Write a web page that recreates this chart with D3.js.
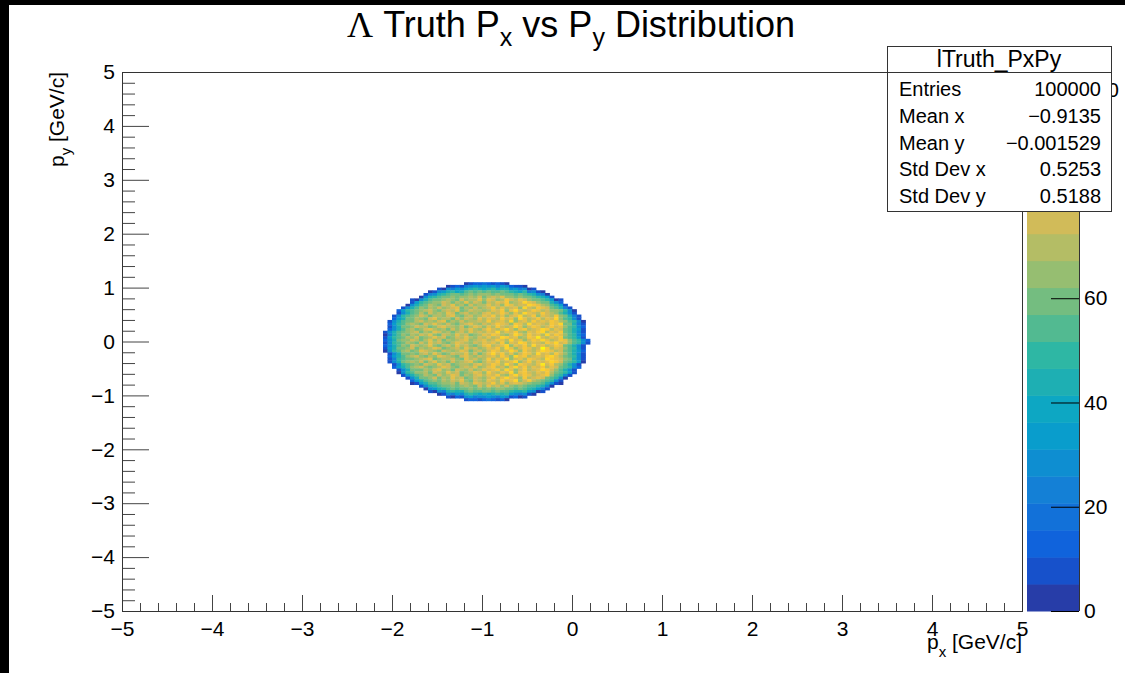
<!DOCTYPE html>
<html>
<head>
<meta charset="utf-8">
<script src="https://cdn.jsdelivr.net/npm/d3@7"></script>
<style>
  html, body { margin: 0; padding: 0; background: #fff; }
  svg { display: block; font-family: "Liberation Sans", Arial, sans-serif; }
</style>
</head>
<body>
<div id="chart"></div>
<script>
// --- Histogram definition (200 x 200 bins over [-5,5] x [-5,5]) ---
const X_RANGE = [-5, 5];
const Y_RANGE = [-5, 5];
const BIN_W = 0.05;
const Z_MAX = 103.4;      // top of the colour scale (max bin content)
const N_LEVELS = 20;      // contour levels of the palette
const COUNT_STEP = 5;     // one base-36 digit = 5 entries

// Non-empty rows, from the top row (y bin 121 -> [1.05, 1.10]) down.
const TOP_ROW_BIN = 121;
const FIRST_X_BIN = [
  76, 72, 70, 68, 67, 66, 64, 64, 63, 62, 61, 61, 60, 60, 59, 59, 59, 59, 58, 58, 58, 58,
  58, 58, 58, 58, 59, 59, 59, 59, 60, 60, 61, 61, 62, 63, 64, 64, 66, 67, 68, 70, 72, 76
];
// bin contents / 5, base 36 (rim + core pieces)
const ROW_COUNTS = [
  '1233432321',
  '123256767675763221',
  '21657689a989a899675612',
  '12679a89bcbcbcbbcba98a5621',
  '2569abccbcdcdd' + 'dcdcccbcba9651',
  '169abccdcd' + 'dedfc' + 'efegd' + 'dcdccba972',
  '2169bccd' + 'edcfdeegd' + 'gfdehfegf' + 'dccba712',
  '27abcd' + 'dfecedgdfec' + 'fegfhdefigf' + 'dcc963',
  '169bc' + 'edcfegdecfdee' + 'gefdhgeffihge' + 'dba72',
  '269bd' + 'cedfdefgcedfde' + 'fhegefgdifehgf' + 'cb952',
  '37abc' + 'defdcefegcdfeed' + 'egfhdgifefhgefd' + 'dca61',
  '269bc' + 'ecfdedgfcefdedf' + 'gefhfdgeigfehfe' + 'db962',
  '26abc' + 'dfeceedfgdcefdeg' + 'fhegdfgiefhdgfeh' + 'dc952',
  '379cc' + 'edcfgdeecfdfedge' + 'gfehfgdigefhegfi' + 'dba62',
  '269bc' + 'cefdedfgcedfdeefe' + 'hefgeidfgehfgfhge' + 'dba61',
  '37abd' + 'edcfegedfdcefgedf' + 'efhgfdhgeifgfehgi' + 'cc952',
  '269cc' + 'dfeecdfgeedfcegfd' + 'gehfefigdfhgefhfg' + 'dba63',
  '369bd' + 'ecdfgedecfdfegedf' + 'hfegifdghefgihegf' + 'cb972',
  '269bc' + 'defcedgfdecefdgefe' + 'gfiegfhedgfhiegfh' + 'cb962',
  '159bd' + 'cedfegdcfedgefcdeg' + 'fhgedfigehfgeifhg' + 'dba63',
  '27abc' + 'edfcdegefcdfegedfe' + 'gefihfgdehgjfegfh' + 'cba72',
  '369cd' + 'dfecegdfcedefgdefg' + 'efhgeifgdfhgigefhg' + 'dba63',
  '26abc' + 'edcfdgefdcegfedfeg' + 'fgehdgfihegfehgifg' + 'dba62',
  '369bd' + 'cfedegdcefdgefdceg' + 'hefgidgfheifgefhg' + 'cb962',
  '279cc' + 'dfcedegfcdefdgefde' + 'gfheigdfhgefkhegf' + 'dba62',
  '16abd' + 'ecdgfedcfedegfcefd' + 'fhgefigdhfegihgef' + 'cb973',
  '269cc' + 'dcefdgecdfeegdfce' + 'gifhegdfhgeifgehf' + 'db962',
  '379bd' + 'efdcedgfedcfgedfe' + 'fgehfdighefgfhige' + 'cba62',
  '25abc' + 'cdefgcdeefdcgefde' + 'hegfidfgehgfeihgf' + 'dc962',
  '269cd' + 'edfcegdecfdefgdce' + 'gfhefgidfhegfgihf' + 'cba71',
  '26abc' + 'dcfedgefcdeedfge' + 'fhgeifdhgfegjfhe' + 'db962',
  '379bd' + 'efdcdegfdcefegde' + 'ghefdgifhegfhegf' + 'cba63',
  '269cc' + 'cedfgdecfedfdeg' + 'fgheigdfhefgihf' + 'db962',
  '16abd' + 'decfedgefcdegfd' + 'hfegfidghfegfhe' + 'cba72',
  '279bc' + 'edcfdegfcedfge' + 'gfhedgifhgefgh' + 'dba62',
  '269cc' + 'dfcedgefcdfed' + 'fhegigfdhefgf' + 'cba61',
  '379bcd' + 'cedfegdcfed' + 'gfehfgidfhe' + 'dcba62',
  '1279bbcd' + 'decfedgfe' + 'fhegdfgfe' + 'dccb9621',
  '269abccdcd' + 'edcfd' + 'gefdf' + 'dcdcbba961',
  '1679abcbccdcdc' + 'dcddccbcba9752',
  '21659a99bcbbc' + 'cbcbba99a7612',
  '1265769a989' + '89a9a765621',
  '213267566' + '765762312',
  '2332343231'
];

// ROOT kBird palette stops
const BIRD_STOPS = [0.0000, 0.1250, 0.2500, 0.3750, 0.5000, 0.6250, 0.7500, 0.8750, 1.0000];
const BIRD_R = [0.2082, 0.0592, 0.0780, 0.0232, 0.1802, 0.5301, 0.8186, 0.9956, 0.9764];
const BIRD_G = [0.1664, 0.3599, 0.5041, 0.6419, 0.7178, 0.7492, 0.7328, 0.7862, 0.9832];
const BIRD_B = [0.5293, 0.8684, 0.8385, 0.7914, 0.6425, 0.4662, 0.3499, 0.1968, 0.0539];

const X_TICKS = [-5, -4, -3, -2, -1, 0, 1, 2, 3, 4, 5];
const Y_TICKS = [-5, -4, -3, -2, -1, 0, 1, 2, 3, 4, 5];
const Z_TICKS = [0, 20, 40, 60, 80, 100];

const STAT_TITLE = 'lTruth_PxPy';
const STAT_LABELS = ['Entries', 'Mean x', 'Mean y', 'Std Dev x', 'Std Dev y'];
const STAT_VALUES = ['100000', '\u22120.9135', '\u22120.001529', '0.5253', '0.5188'];

// --- Layout ---
const W = 1125, H = 673;
const frame = { left: 122, right: 1022, top: 72, bottom: 611 };
const pal = { left: 1027, right: 1079 };
const LABEL_FONT = 21;

const svg = d3.select('#chart').append('svg').attr('width', W).attr('height', H);
svg.append('rect').attr('width', W).attr('height', H).attr('fill', '#fff');

const x = d3.scaleLinear().domain(X_RANGE).range([frame.left, frame.right]);
const y = d3.scaleLinear().domain(Y_RANGE).range([frame.bottom, frame.top]);
const z = d3.scaleLinear().domain([0, Z_MAX]).range([frame.bottom, frame.top]);

// palette colours: 255-colour gradient sampled per contour level, as ROOT does
const bird = d3.scaleLinear().domain(BIRD_STOPS)
  .range(BIRD_STOPS.map((s, i) => d3.rgb(BIRD_R[i] * 255, BIRD_G[i] * 255, BIRD_B[i] * 255)))
  .interpolate(d3.interpolateRgb);
const levelColor = d3.range(N_LEVELS).map(k => {
  const p = Math.floor((k + 0.99) * 255 / N_LEVELS);
  return bird(Math.min(p, 254) / 254);
});
const colorOf = c => levelColor[Math.min(N_LEVELS - 1, Math.floor(c / Z_MAX * N_LEVELS))];

// --- Cells ---
const cells = [];
ROW_COUNTS.forEach((row, r) => {
  const yBin = TOP_ROW_BIN - r;
  [...row].forEach((ch, c) => {
    const v = parseInt(ch, 36);
    if (v > 0) cells.push({ xBin: FIRST_X_BIN[r] + c, yBin, count: v * COUNT_STEP });
  });
});

const xLo = d => X_RANGE[0] + d.xBin * BIN_W;
const yLo = d => Y_RANGE[0] + d.yBin * BIN_W;

svg.append('g').attr('class', 'cells')
  .selectAll('rect')
  .data(cells)
  .join('rect')
  .attr('x', d => x(xLo(d)))
  .attr('y', d => y(yLo(d) + BIN_W))
  .attr('width', d => x(xLo(d) + BIN_W) - x(xLo(d)) + 0.4)
  .attr('height', d => y(yLo(d)) - y(yLo(d) + BIN_W) + 0.4)
  .attr('fill', d => colorOf(d.count));

// --- Axes ---
const fmt = d => (d < 0 ? '\u2212' + Math.abs(d) : String(d));
const minorOf = (ticks, step) => d3.range(ticks[0], ticks[ticks.length - 1] + 1e-9, step)
  .filter(v => Math.abs(v - Math.round(v)) > 1e-6);

function styleAxis(g) {
  g.select('.domain').remove();
  g.selectAll('line').attr('stroke', '#444').attr('stroke-width', 1);
  g.selectAll('text').attr('font-size', LABEL_FONT).attr('fill', '#000')
    .attr('font-family', '"Liberation Sans", Arial, sans-serif');
}

svg.append('g').attr('transform', `translate(0,${frame.bottom})`)
  .call(d3.axisBottom(x).tickValues(minorOf(X_TICKS, 0.2)).tickSize(-8).tickFormat(''))
  .call(styleAxis);
svg.append('g').attr('transform', `translate(0,${frame.bottom})`)
  .call(d3.axisBottom(x).tickValues(X_TICKS).tickSize(-16).tickPadding(10).tickFormat(fmt))
  .call(styleAxis);

svg.append('g').attr('transform', `translate(${frame.left},0)`)
  .call(d3.axisLeft(y).tickValues(minorOf(Y_TICKS, 0.2)).tickSize(-13).tickFormat(''))
  .call(styleAxis);
svg.append('g').attr('transform', `translate(${frame.left},0)`)
  .call(d3.axisLeft(y).tickValues(Y_TICKS).tickSize(-27).tickPadding(7).tickFormat(fmt))
  .call(styleAxis);

// frame
svg.append('rect')
  .attr('x', frame.left + 0.5).attr('y', frame.top + 0.5)
  .attr('width', frame.right - frame.left).attr('height', frame.bottom - frame.top)
  .attr('fill', 'none').attr('stroke', '#333').attr('stroke-width', 1);

// --- Palette ---
svg.append('g').selectAll('rect')
  .data(levelColor)
  .join('rect')
  .attr('x', pal.left)
  .attr('width', pal.right - pal.left)
  .attr('y', (c, k) => z((k + 1) * Z_MAX / N_LEVELS))
  .attr('height', (c, k) => z(k * Z_MAX / N_LEVELS) - z((k + 1) * Z_MAX / N_LEVELS) + 0.5)
  .attr('fill', c => c);

svg.append('g').attr('transform', `translate(${pal.right},0)`)
  .call(d3.axisRight(z).tickValues(Z_TICKS).tickSize(-28).tickPadding(5).tickFormat(String))
  .call(styleAxis)
  .call(g => g.selectAll('line').attr('stroke', '#000'));
svg.append('line')
  .attr('x1', pal.right + 0.5).attr('x2', pal.right + 0.5)
  .attr('y1', frame.top).attr('y2', frame.bottom)
  .attr('stroke', '#333');

// --- Axis titles ---
const xt = svg.append('text')
  .attr('x', frame.right).attr('y', 649)
  .attr('text-anchor', 'end').attr('font-size', LABEL_FONT);
xt.append('tspan').text('p');
xt.append('tspan').attr('font-size', 15).attr('dy', 8).text('x');
xt.append('tspan').attr('dy', -8).text(' [GeV/c]');

const yt = svg.append('text')
  .attr('transform', `translate(64,${frame.top}) rotate(-90)`)
  .attr('text-anchor', 'end').attr('font-size', LABEL_FONT);
yt.append('tspan').text('p');
yt.append('tspan').attr('font-size', 15).attr('dy', 7).text('y');
yt.append('tspan').attr('dy', -7).text(' [GeV/c]');

// --- Title ---
const title = svg.append('text')
  .attr('x', 571).attr('y', 37)
  .attr('text-anchor', 'middle').attr('font-size', 36);
title.append('tspan').attr('font-family', '"Liberation Serif", "DejaVu Serif", serif').text('\u039B');
title.append('tspan').text(' Truth P');
title.append('tspan').attr('font-size', 25).attr('dy', 9).text('x');
title.append('tspan').attr('dy', -9).text(' vs P');
title.append('tspan').attr('font-size', 25).attr('dy', 9).text('y');
title.append('tspan').attr('dy', -9).text(' Distribution');

// --- Stats box ---
const box = { left: 887, right: 1111, top: 46, bottom: 211, header: 72 };
const stats = svg.append('g').attr('class', 'stats');
stats.append('rect')
  .attr('x', box.left + 0.5).attr('y', box.top + 0.5)
  .attr('width', box.right - box.left).attr('height', box.bottom - box.top)
  .attr('fill', '#fff').attr('stroke', '#333');
stats.append('line')
  .attr('x1', box.left).attr('x2', box.right)
  .attr('y1', box.header + 0.5).attr('y2', box.header + 0.5)
  .attr('stroke', '#333');
stats.append('text')
  .attr('x', (box.left + box.right) / 2).attr('y', 67)
  .attr('text-anchor', 'middle').attr('font-size', 23)
  .text(STAT_TITLE);
const rowY = d3.scalePoint().domain(STAT_LABELS).range([96, 203]);
stats.selectAll('text.lab')
  .data(STAT_LABELS)
  .join('text').attr('class', 'lab')
  .attr('x', 899).attr('y', d => rowY(d)).attr('font-size', 20)
  .text(d => d);
stats.selectAll('text.val')
  .data(STAT_VALUES)
  .join('text').attr('class', 'val')
  .attr('x', 1101).attr('y', (d, i) => rowY(STAT_LABELS[i]))
  .attr('text-anchor', 'end').attr('font-size', 20)
  .text(d => d);

// --- black window border ---
svg.append('rect').attr('x', 0).attr('y', 0).attr('width', W).attr('height', 5).attr('fill', '#000');
svg.append('rect').attr('x', 0).attr('y', 0).attr('width', 9).attr('height', H).attr('fill', '#000');
</script>
</body>
</html>
